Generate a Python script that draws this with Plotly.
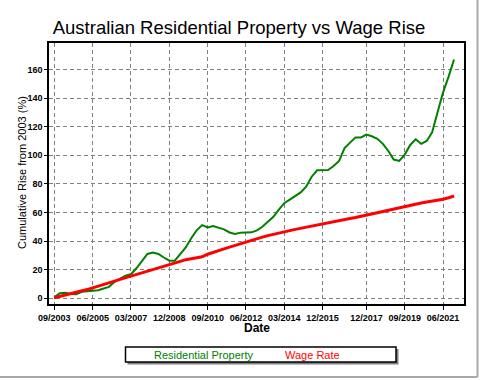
import pandas as pd
import plotly.graph_objects as go

# ---- data (quarterly, Sep 2003 .. Dec 2021) ----
dates = pd.date_range("2003-09-01", periods=74, freq="3MS")
residential = [0.7, 3.5, 3.9, 3.0, 2.8, 4.5, 4.9, 5.2, 5.6, 6.8,
               8.0, 11.5, 13.5, 15.8, 16.8, 21.0, 26.0, 31.0, 32.0, 31.0,
               28.5, 26.3, 26.3, 31.0, 35.5, 42.0, 47.5, 51.2, 49.5, 50.5,
               49.5, 48.2, 46.0, 45.0, 45.9, 46.0, 46.1, 47.5, 50.0, 53.5,
               57.0, 62.0, 66.5, 69.0, 71.5, 74.0, 78.0, 85.0, 89.5, 89.7,
               89.7, 92.5, 96.0, 105.0, 109.0, 112.5, 112.5, 114.5, 113.3, 111.5,
               108.0, 103.0, 97.0, 96.0, 100.5, 107.2, 111.2, 108.0, 110.0, 116.0,
               130.0, 144.0, 155.0, 167.0]
wage = [0.4, 1.3, 2.2, 3.0, 3.9, 4.9, 6.1, 7.3, 8.6, 9.8,
        11.0, 12.0, 13.2, 14.3, 15.5, 16.6, 17.8, 19.0, 20.1, 21.3,
        22.4, 23.5, 24.7, 25.8, 27.0, 27.8, 28.5, 29.0, 30.8, 32.2,
        33.4, 34.6, 35.8, 37.0, 38.2, 39.4, 40.8, 41.8, 42.8, 43.8,
        44.8, 45.6, 46.5, 47.3, 48.2, 49.0, 49.8, 50.5, 51.3, 52.0,
        52.8, 53.5, 54.3, 55.1, 55.8, 56.5, 57.2, 58.0, 58.9, 59.8,
        60.7, 61.6, 62.5, 63.4, 64.3, 65.3, 66.0, 66.6, 67.3, 67.8,
        68.5, 69.3, 70.3, 71.5]
tick_dates = ["2003-09-01", "2005-06-01", "2007-03-01", "2008-12-01", "2010-09-01",
              "2012-06-01", "2014-03-01", "2015-12-01", "2017-12-01", "2019-09-01",
              "2021-06-01"]
tick_labels = ["09/2003", "06/2005", "03/2007", "12/2008", "09/2010", "06/2012",
               "03/2014", "12/2015", "12/2017", "09/2019", "06/2021"]
y_ticks = [0, 20, 40, 60, 80, 100, 120, 140, 160]

W, H = 480, 380
L, R, T, B = 49, 464, 43, 304


def px(x):
    return (x - L) / (R - L)


def py(y):
    return (B - y) / (B - T)


fig = go.Figure()
fig.add_trace(go.Scatter(x=dates, y=residential, mode="lines", name="Residential Property",
                         line=dict(color="#008000", width=2)))
fig.add_trace(go.Scatter(x=dates, y=wage, mode="lines", name="Wage Rate",
                         line=dict(color="#ff0000", width=3)))

tickfont = dict(family="Liberation Sans", size=9, color="#000000", weight="bold")
fig.update_xaxes(range=["2003-06-04", "2022-05-16"], tickmode="array",
                 tickvals=tick_dates, ticktext=tick_labels, tickfont=tickfont,
                 showgrid=True, gridcolor="#808080", gridwidth=1, griddash="4px,3px",
                 showline=True, linecolor="#000000", linewidth=1.5, mirror=True,
                 ticks="outside", ticklen=4, tickcolor="#000000", zeroline=False)
fig.update_yaxes(range=[-4, 178.5], tickmode="array", tickvals=y_ticks, tickfont=tickfont,
                 showgrid=True, gridcolor="#808080", gridwidth=1, griddash="4px,3px",
                 showline=True, linecolor="#000000", linewidth=1.5, mirror=True,
                 ticks="outside", ticklen=3, tickcolor="#000000", zeroline=False)

shapes = [
    # outer frame (grey, right and bottom)
    dict(type="line", xref="paper", yref="paper", x0=px(477.5), x1=px(477.5), y0=py(-2), y1=py(377),
         line=dict(color="#a9a9a9", width=2)),
    dict(type="line", xref="paper", yref="paper", x0=px(-2), x1=px(477.5), y0=py(377), y1=py(377),
         line=dict(color="#a9a9a9", width=2)),
    # legend shadow and box
    dict(type="rect", xref="paper", yref="paper", x0=px(127.5), x1=px(398.5), y0=py(364.5), y1=py(349),
         fillcolor="#808080", line=dict(width=0)),
    dict(type="rect", xref="paper", yref="paper", x0=px(125.5), x1=px(396), y0=py(362), y1=py(347),
         fillcolor="#ffffff", line=dict(color="#000000", width=1.5)),
]

annotations = [
    dict(text="Cumulative Rise from 2003 (%)", xref="paper", yref="paper", x=px(22), y=py(173),
         textangle=-90, showarrow=False, xanchor="center", yanchor="middle",
         font=dict(family="Liberation Sans", size=11, color="#000000")),
    dict(text="Date", xref="paper", yref="paper", x=px(256.5), y=py(328),
         showarrow=False, xanchor="center", yanchor="middle",
         font=dict(family="Liberation Sans", size=12, color="#000000", weight="bold")),
    dict(text="Residential Property", xref="paper", yref="paper", x=px(151.5), y=py(355),
         showarrow=False, xanchor="left", yanchor="middle",
         font=dict(family="Liberation Sans", size=11, color="#008000")),
    dict(text="Wage Rate", xref="paper", yref="paper", x=px(282.5), y=py(355),
         showarrow=False, xanchor="left", yanchor="middle",
         font=dict(family="Liberation Sans", size=11, color="#ff0000")),
]

fig.update_layout(
    width=W, height=H, autosize=False,
    margin=dict(l=L, r=W - R, t=T, b=H - B, pad=0),
    paper_bgcolor="#ffffff", plot_bgcolor="#ffffff",
    showlegend=False,
    title=dict(text="Australian Residential Property vs Wage Rise", xref="container", yref="container",
               x=239 / W, y=1 - 27.5 / H, xanchor="center", yanchor="middle",
               font=dict(family="Liberation Sans", size=18.5, color="#000000")),
    shapes=shapes, annotations=annotations,
)

fig.write_html("out.html", config={"displayModeBar": False},
               post_script="document.body.style.margin='0px';document.body.style.overflow='hidden';")
